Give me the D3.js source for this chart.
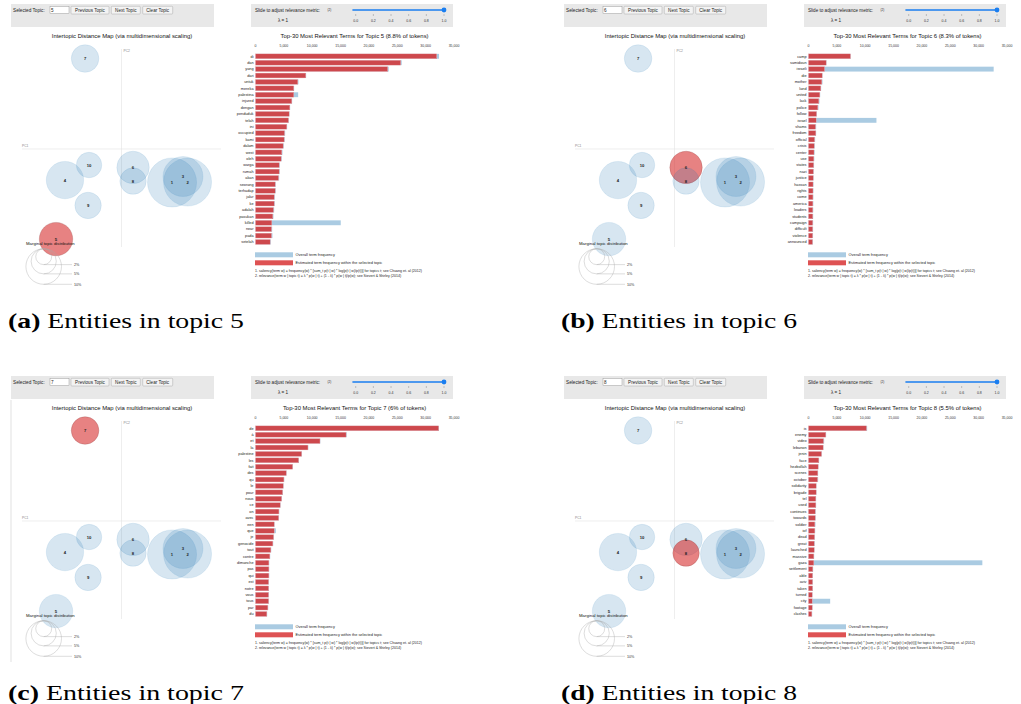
<!DOCTYPE html>
<html><head><meta charset="utf-8">
<script src="https://cdn.jsdelivr.net/npm/d3@7"></script>
<style>body{margin:0;background:#fff} svg text{font-family:"Liberation Sans",Arial,sans-serif}</style>
</head><body>
<script>
// ---- Intertopic distance map (shared by all panels)
const topicIds = [1, 2, 3, 4, 5, 6, 7, 8, 9, 10];
const topicPC1 = [0.254, 0.332, 0.309, -0.284, -0.329, 0.058, -0.183, 0.058, -0.168, -0.163];
const topicPC2 = [-0.169, -0.167, -0.139, -0.157, -0.455, -0.093, 0.457, -0.162, -0.285, -0.081];
const topicPct = [19, 18.2, 12.6, 11, 8.8, 8.3, 6.0, 5.5, 5.5, 5.1];
const legendPct = [2, 5, 10];
const freqTicks = [0, 5000, 10000, 15000, 20000, 25000, 30000, 35000];
const lambdaTicks = [0, 0.2, 0.4, 0.6, 0.8, 1.0];

// ---- Panel (a) topic 5
const termsA = ["di","dan","yang","dari","untuk","mereka","palestina","injured","dengan","penduduk","telah","ini","occupied","kami","dalam","west","oleh","warga","rumah","akan","seorang","terhadap","jalur","ke","adalah","pasukan","killed","near","pada","setelah"];
const estA = [31950,25600,23310,8870,7460,6750,6750,6400,6050,5930,5810,5520,5110,5050,4870,4640,4520,4170,4170,4050,3470,3470,3290,3290,3170,3050,2880,2820,2820,2580];
const totA = [32360,25780,23490,8930,7580,6810,7520,6460,6110,5990,5870,5580,5230,5170,4990,4760,4640,4290,4290,4170,3580,3580,3410,3410,3290,3170,15030,2940,2990,2700];
// ---- Panel (b) topic 6
const termsB = ["camp","samidoun","israeli","die","mother","land","united","lack","police","follow","israel","shams","freedom","official","crisis","center","use","states","nazi","justice","hassan","rights","come","america","leaders","students","campaign","difficult","violence","announced"];
const estB = [7400,3110,2820,2410,2350,2170,2000,1820,1640,1410,1350,1230,1290,1060,1000,970,940,900,850,830,800,790,780,770,760,750,740,730,720,700];
const totB = [7430,3170,32650,2470,2470,2230,2060,1940,1760,1470,11980,1350,1350,1170,1120,1080,1020,980,930,910,880,870,860,850,840,830,820,810,800,780];
// ---- Panel (c) topic 7
const termsC = ["de","à","et","la","palestine","les","fait","des","qu","le","pour","nous","ce","on","avec","een","que","je","genocide","tout","contre","dimanche","pas","qui","est","notre","vous","tous","par","du"];
const estC = [32290,15970,11370,9250,8130,7600,6540,5420,5010,4890,4770,4600,4360,4130,4070,3300,3300,3180,3060,2710,2530,2360,2360,2360,2300,2300,2300,2300,2180,2000];
const totC = [32350,16090,11430,9310,8190,7660,6600,5480,5070,4950,4830,4660,4420,4190,4130,3360,3590,3240,3120,2770,2590,2420,2420,2420,2360,2360,2360,2360,2240,2060];
// ---- Panel (d) topic 8
const termsD = ["is","enemy","video","lebanon","jenin","face","hezbollah","scenes","october","solidarity","brigade","tel","used","continues","towards","soldier","iof","dead","great","launched","massive","gaza","settlement","able","aviv","taken","turned","city","footage","clashes"];
const estD = [10220,3050,2640,2580,2290,1820,1700,1640,1590,1350,1350,1290,1290,1180,1180,1120,1120,1060,1000,1000,940,940,760,710,710,710,650,650,650,590];
const totD = [10340,3110,2760,2640,2350,1880,1760,1700,1700,1410,1410,1350,1350,1290,1290,1230,1180,1120,1120,1060,1000,30650,820,770,770,770,710,3820,710,650];

const panels = [
  {dx: 0,   dy: 0,   sel: 5, pct: "8.8%", terms: termsA, est: estA, tot: totA, cap: "(a)", capText: " Entities in topic 5"},
  {dx: 553, dy: 0,   sel: 6, pct: "8.3%", terms: termsB, est: estB, tot: totB, cap: "(b)", capText: " Entities in topic 6"},
  {dx: 0,   dy: 372, sel: 7, pct: "6%",   terms: termsC, est: estC, tot: totC, cap: "(c)", capText: " Entities in topic 7", border: true},
  {dx: 553, dy: 372, sel: 8, pct: "5.5%", terms: termsD, est: estD, tot: totD, cap: "(d)", capText: " Entities in topic 8"}
];

const svg = d3.select("body").append("svg").attr("width", 1021).attr("height", 704);
svg.append("rect").attr("width", 1021).attr("height", 704).attr("fill", "#fff");

const xPC = d3.scaleLinear().domain([-0.5, 0.5]).range([22, 221]);
const yPC = d3.scaleLinear().domain([-0.5, 0.5]).range([248, 50]);
const rScale = d3.scaleSqrt().domain([0, 100]).range([0, 56.3]);
const xFreq = d3.scaleLinear().domain([0, 35000]).range([255.5, 454]);
const xLam = d3.scaleLinear().domain([0, 1]).range([355.7, 444]);

panels.forEach(p => {
  const g = svg.append("g").attr("transform", `translate(${p.dx},${p.dy})`);
  if (p.border) g.append("line").attr("x1", 11).attr("x2", 11).attr("y1", 28).attr("y2", 290).attr("stroke", "#ccc").attr("stroke-width", 0.6);

  // control bars
  g.append("rect").attr("x", 11).attr("y", 4).attr("width", 203).attr("height", 23).attr("fill", "#e8e8e8");
  g.append("rect").attr("x", 251).attr("y", 4).attr("width", 202).attr("height", 23).attr("fill", "#e8e8e8");
  g.append("text").attr("x", 13).attr("y", 11.9).attr("font-size", 4.7).attr("fill", "#222").text("Selected Topic:");
  g.append("rect").attr("x", 50).attr("y", 6.5).attr("width", 19).attr("height", 7).attr("fill", "#fff").attr("stroke", "#888").attr("stroke-width", 0.4);
  g.append("text").attr("x", 51).attr("y", 11.9).attr("font-size", 4.6).attr("fill", "#222").text(p.sel);
  const buttons = [["Previous Topic", 71, 38], ["Next Topic", 111.3, 29], ["Clear Topic", 142.7, 30]];
  buttons.forEach(b => {
    g.append("rect").attr("x", b[1]).attr("y", 6.3).attr("width", b[2]).attr("height", 7.7).attr("rx", 0.8)
      .attr("fill", "#f3f3f3").attr("stroke", "#999").attr("stroke-width", 0.4);
    g.append("text").attr("x", b[1] + b[2] / 2).attr("y", 11.9).attr("text-anchor", "middle").attr("font-size", 4.6).attr("fill", "#222").text(b[0]);
  });
  g.append("text").attr("x", 255).attr("y", 12.2).attr("font-size", 4.6).attr("fill", "#222").text("Slide to adjust relevance metric:");
  g.append("text").attr("x", 327.5).attr("y", 10.8).attr("font-size", 3).attr("fill", "#222").text("(2)");
  g.append("text").attr("x", 283).attr("y", 22).attr("text-anchor", "middle").attr("font-size", 4.6).attr("fill", "#222").text("λ = 1");
  g.append("line").attr("x1", 353).attr("x2", 444).attr("y1", 10).attr("y2", 10).attr("stroke", "#1a7ef0").attr("stroke-width", 1.6).attr("stroke-linecap", "round");
  g.append("circle").attr("cx", 444).attr("cy", 10).attr("r", 2.4).attr("fill", "#1a7ef0");
  lambdaTicks.forEach(t => {
    g.append("line").attr("x1", xLam(t)).attr("x2", xLam(t)).attr("y1", 14).attr("y2", 16).attr("stroke", "#777").attr("stroke-width", 0.4);
    g.append("text").attr("x", xLam(t)).attr("y", 22).attr("text-anchor", "middle").attr("font-size", 3.5).attr("fill", "#333").text(t.toFixed(1));
  });

  // titles
  g.append("text").attr("x", 122).attr("y", 38.2).attr("text-anchor", "middle").attr("font-size", 5.9).attr("fill", "#111").text("Intertopic Distance Map (via multidimensional scaling)");
  g.append("text").attr("x", 354.5).attr("y", 38.2).attr("text-anchor", "middle").attr("font-size", 5.9).attr("fill", "#111").text(`Top-30 Most Relevant Terms for Topic ${p.sel} (${p.pct} of tokens)`);

  // MDS axes
  g.append("line").attr("x1", xPC(0)).attr("x2", xPC(0)).attr("y1", 49).attr("y2", 247).attr("stroke", "#e2e2e2").attr("stroke-width", 0.6);
  g.append("line").attr("x1", 22).attr("x2", 221).attr("y1", yPC(0)).attr("y2", yPC(0)).attr("stroke", "#e2e2e2").attr("stroke-width", 0.6);
  g.append("text").attr("x", 22).attr("y", yPC(0) - 2.5).attr("font-size", 3.3).attr("fill", "#888").text("PC1");
  g.append("text").attr("x", xPC(0) + 2).attr("y", 52).attr("font-size", 3.3).attr("fill", "#888").text("PC2");

  topicIds.forEach((id, i) => {
    const sel = id === p.sel;
    g.append("circle").attr("cx", xPC(topicPC1[i])).attr("cy", yPC(topicPC2[i])).attr("r", rScale(topicPct[i]))
      .attr("fill", sel ? "#d62728" : "#1f77b4").attr("fill-opacity", sel ? 0.58 : 0.18)
      .attr("stroke", sel ? "#8a3a3a" : "#1f77b4").attr("stroke-opacity", sel ? 0.5 : 0.2).attr("stroke-width", 0.5);
  });
  topicIds.forEach((id, i) => {
    g.append("text").attr("x", xPC(topicPC1[i])).attr("y", yPC(topicPC2[i]) + 1.5).attr("text-anchor", "middle")
      .attr("font-size", 4.2).attr("font-weight", "bold").attr("fill", "#222").text(id);
  });

  // marginal legend
  const lcx = 43.7, ltop = 248.7;
  g.append("text").attr("x", 26).attr("y", 244.7).attr("font-size", 4.3).attr("fill", "#111").text("Marginal topic distribution");
  legendPct.forEach(v => {
    const r = rScale(v);
    g.append("circle").attr("cx", lcx).attr("cy", ltop + r).attr("r", r).attr("fill", "none").attr("stroke", "#aaa").attr("stroke-width", 0.4);
    g.append("line").attr("x1", lcx).attr("x2", 72).attr("y1", ltop + 2 * r).attr("y2", ltop + 2 * r).attr("stroke", "#aaa").attr("stroke-width", 0.4);
    g.append("text").attr("x", 74).attr("y", ltop + 2 * r + 1.3).attr("font-size", 3.7).attr("fill", "#333").text(v + "%");
  });

  // bar chart
  const yBand = d3.scaleBand().domain(p.terms).range([53.1, 245.2]).paddingInner(0.24).paddingOuter(0.12);
  freqTicks.forEach(t => {
    g.append("text").attr("x", xFreq(t)).attr("y", 47.3).attr("text-anchor", "middle").attr("font-size", 3.5).attr("fill", "#333").text(d3.format(",")(t));
  });
  p.terms.forEach((t, i) => {
    g.append("rect").attr("x", xFreq(0)).attr("y", yBand(t)).attr("width", xFreq(p.tot[i]) - xFreq(0)).attr("height", yBand.bandwidth())
      .attr("fill", "#1f77b4").attr("fill-opacity", 0.38);
    g.append("rect").attr("x", xFreq(0)).attr("y", yBand(t)).attr("width", xFreq(p.est[i]) - xFreq(0)).attr("height", yBand.bandwidth())
      .attr("fill", "#d62728").attr("fill-opacity", 0.8).attr("stroke", "#f2b8ba").attr("stroke-width", 0.35);
    g.append("text").attr("x", 253.5).attr("y", yBand(t) + yBand.bandwidth() / 2 + 1.25).attr("text-anchor", "end").attr("font-size", 3.8).attr("fill", "#222").text(t);
  });

  // bar legend & notes
  g.append("rect").attr("x", 255).attr("y", 252.3).attr("width", 38).attr("height", 5).attr("fill", "#1f77b4").attr("fill-opacity", 0.38);
  g.append("text").attr("x", 295.5).attr("y", 256.1).attr("font-size", 3.9).attr("fill", "#222").text("Overall term frequency");
  g.append("rect").attr("x", 255).attr("y", 260.3).attr("width", 38).attr("height", 5).attr("fill", "#d62728").attr("fill-opacity", 0.8);
  g.append("text").attr("x", 295.5).attr("y", 264.1).attr("font-size", 3.9).attr("fill", "#222").text("Estimated term frequency within the selected topic");
  g.append("text").attr("x", 255).attr("y", 272.4).attr("font-size", 3.55).attr("fill", "#222")
    .text("1. saliency(term w) = frequency(w) * [sum_t p(t | w) * log(p(t | w)/p(t))] for topics t; see Chuang et. al (2012)");
  g.append("text").attr("x", 255).attr("y", 276.8).attr("font-size", 3.55).attr("fill", "#222")
    .text("2. relevance(term w | topic t) = λ * p(w | t) + (1 - λ) * p(w | t)/p(w); see Sievert & Shirley (2014)");

  // caption
  const cap = g.append("text").attr("x", 8).attr("y", 328).style("font-family", "'Liberation Serif', 'DejaVu Serif', serif")
    .attr("font-size", 22).attr("fill", "#000").attr("textLength", 236).attr("lengthAdjust", "spacingAndGlyphs");
  cap.append("tspan").attr("font-weight", "bold").text(p.cap);
  cap.append("tspan").text(p.capText);
});
</script>
</body></html>
